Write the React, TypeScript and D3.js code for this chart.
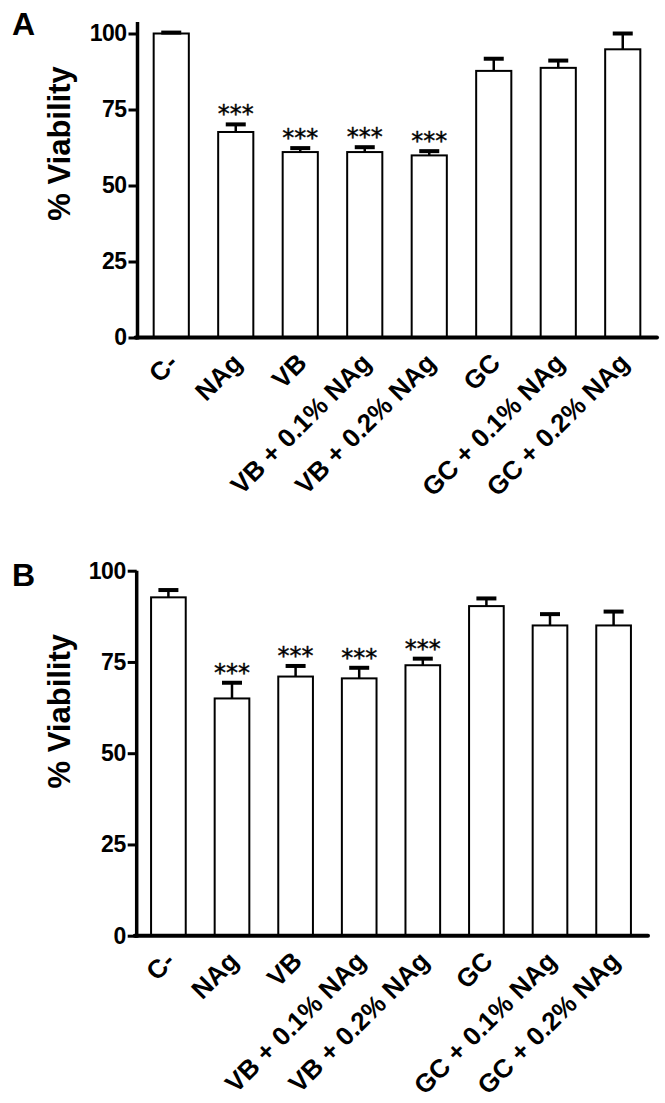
import React, { useEffect, useRef } from 'react';
import * as d3 from 'd3';

const categories = ['C-', 'NAg', 'VB', 'VB + 0.1% NAg', 'VB + 0.2% NAg', 'GC', 'GC + 0.1% NAg', 'GC + 0.2% NAg'];
const meansA = [100, 67.6, 61.0, 61.0, 59.9, 87.7, 88.7, 94.8];
const semA = [0.3, 2.5, 1.3, 1.6, 1.4, 4.0, 2.4, 5.2];
const meansB = [92.7, 65.0, 71.0, 70.5, 74.1, 90.3, 85.0, 85.0];
const semB = [2.0, 4.3, 2.9, 2.9, 1.8, 2.1, 3.1, 3.8];
const significant = [false, true, true, true, true, false, false, false];
const yTicks = [0, 25, 50, 75, 100];
const yTitle = '% Viability';

const FONT = '"Liberation Sans", Arial, sans-serif';

type Panel = {
  letter: string;
  means: number[];
  sem: number[];
  y0: number;
  y100: number;
  axisTop: number;
  x0: number;
  x1: number;
  xAxisEnd: number;
  axisX: number;
  letterY: number;
};

const panels: Panel[] = [
  { letter: 'A', means: meansA, sem: semA, y0: 337.5, y100: 33.5, axisTop: 22, x0: 139, x1: 655, xAxisEnd: 657, axisX: 137.5, letterY: 35 },
  { letter: 'B', means: meansB, sem: semB, y0: 935.7, y100: 570.7, axisTop: 570.7, x0: 136.6, x1: 645.4, xAxisEnd: 648, axisX: 136.7, letterY: 586 }
];

export default function App() {
  const ref = useRef<SVGSVGElement>(null);

  useEffect(() => {
    const svg = d3.select(ref.current);
    svg.selectAll('*').remove();

    panels.forEach((p) => {
      const g = svg.append('g');
      const x = d3.scaleBand<string>()
        .domain(categories)
        .range([p.x0, p.x1])
        .paddingInner(0.455)
        .paddingOuter(0.2275);
      const y = d3.scaleLinear().domain([0, 100]).range([p.y0, p.y100]);
      const bw = x.bandwidth();

      // panel letter
      g.append('text')
        .attr('x', 12)
        .attr('y', p.letterY)
        .attr('font-family', FONT)
        .attr('font-weight', 'bold')
        .attr('font-size', 32)
        .text(p.letter);

      // bars
      g.selectAll('rect.bar')
        .data(p.means)
        .enter()
        .append('rect')
        .attr('class', 'bar')
        .attr('x', (d, i) => x(categories[i])!)
        .attr('y', (d) => y(d))
        .attr('width', bw)
        .attr('height', (d) => y(0) - y(d))
        .attr('fill', '#fff')
        .attr('stroke', '#000')
        .attr('stroke-width', 2);

      // error bars + significance stars
      p.means.forEach((m, i) => {
        const cx = x(categories[i])! + bw / 2;
        const top = y(m + p.sem[i]);
        g.append('line')
          .attr('x1', cx).attr('x2', cx)
          .attr('y1', y(m)).attr('y2', top)
          .attr('stroke', '#000').attr('stroke-width', 2.5);
        g.append('line')
          .attr('x1', cx - 10).attr('x2', cx + 10)
          .attr('y1', top).attr('y2', top)
          .attr('stroke', '#000').attr('stroke-width', 4);
        if (significant[i]) {
          g.append('text')
            .attr('x', cx)
            .attr('y', top - 2)
            .attr('text-anchor', 'middle')
            .attr('font-family', '"DejaVu Sans", sans-serif')
            .attr('font-size', 24)
            .attr('stroke', '#000')
            .attr('stroke-width', 0.4)
            .text('***');
        }
      });

      // y axis
      const yAxis = g.append('g')
        .attr('transform', `translate(${p.axisX},0)`)
        .call(d3.axisLeft(y).tickValues(yTicks).tickSize(9).tickPadding(2).tickFormat(d3.format('d')));
      yAxis.select('.domain').remove();
      yAxis.selectAll('.tick line').attr('stroke-width', 3);
      yAxis.selectAll('.tick text')
        .attr('font-family', FONT)
        .attr('font-weight', 'bold')
        .attr('font-size', 23)
        .attr('letter-spacing', -0.5)
        .attr('fill', '#000');
      g.append('line')
        .attr('x1', p.axisX).attr('x2', p.axisX)
        .attr('y1', p.axisTop).attr('y2', y(0) + 2)
        .attr('stroke', '#000').attr('stroke-width', 3.5);

      // x axis
      g.append('line')
        .attr('x1', p.axisX - 2).attr('x2', p.xAxisEnd)
        .attr('y1', y(0)).attr('y2', y(0))
        .attr('stroke', '#000').attr('stroke-width', 4)
        .attr('stroke-linecap', 'round');

      g.selectAll('text.xlab')
        .data(categories)
        .enter()
        .append('text')
        .attr('class', 'xlab')
        .attr('transform', (d) => `translate(${x(d)! + bw / 2 + 8},${y(0) + 27}) rotate(-45)`)
        .attr('text-anchor', 'end')
        .attr('font-family', FONT)
        .attr('font-weight', 'bold')
        .attr('font-size', 26)
        .text((d) => d);

      // y title
      g.append('text')
        .attr('transform', `translate(70,${(y(0) + y(100)) / 2 - 42}) rotate(-90)`)
        .attr('text-anchor', 'middle')
        .attr('font-family', FONT)
        .attr('font-weight', 'bold')
        .attr('font-size', 31)
        .text(yTitle);
    });
  }, []);

  return (
    <svg
      ref={ref}
      width={665}
      height={1103}
      style={{ position: 'absolute', left: 0, top: 0, background: '#fff' }}
    />
  );
}
